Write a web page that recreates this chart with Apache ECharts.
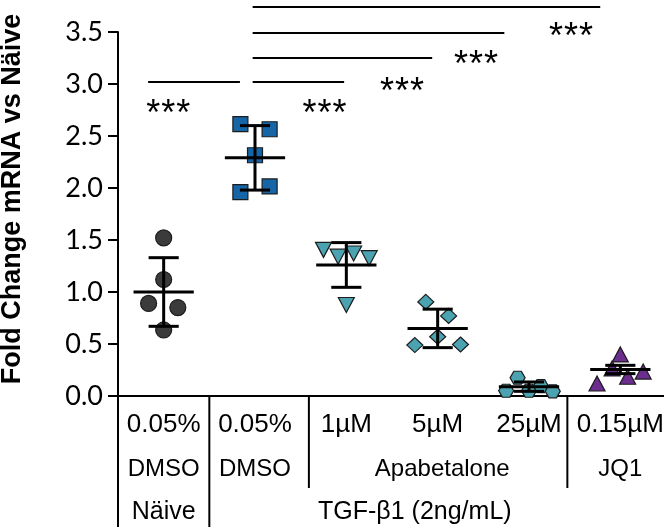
<!DOCTYPE html>
<html>
<head>
<meta charset="utf-8">
<script src="https://cdn.jsdelivr.net/npm/echarts@6/dist/echarts.min.js"></script>
<style>
  html, body { margin: 0; padding: 0; background: #fff; }
  #chart { width: 664px; height: 527px; }
</style>
</head>
<body>
<div id="chart"></div>
<script>
  // first label row, one per group
  const groupLabels = ['0.05%', '0.05%', '1µM', '5µM', '25µM', '0.15µM']
  // second and third rows: text and the group position it is centred on
  const rowTwoText = ['DMSO', 'DMSO', 'Apabetalone', 'JQ1']
  const rowTwoAt = [0, 1, 3.05, 5]
  const rowThreeText = ['Näive', 'TGF-β1 (2ng/mL)']
  const rowThreeAt = [0, 2.75]
  // dividers under the axis (position) and whether they run to the last row
  const dividerAt = [-0.5, 0.5, 1.59, 4.42]
  const dividerLong = [true, true, false, false]

  // single measurements per group and their horizontal spread
  const naiveVals = [1.52, 1.12, 0.89, 0.85, 0.635]
  const naiveJit = [0, 0, -0.165, 0.155, 0]
  const dmsoVals = [2.615, 2.565, 2.315, 1.96, 2.015]
  const dmsoJit = [-0.16, 0.16, 0, -0.16, 0.16]
  const apa1Vals = [1.405, 1.34, 1.37, 1.325, 0.875]
  const apa1Jit = [-0.25, -0.09, 0.08, 0.25, 0]
  const apa5Vals = [0.905, 0.77, 0.57, 0.49, 0.495]
  const apa5Jit = [-0.13, 0.12, 0, -0.25, 0.25]
  const apa25Vals = [0.175, 0.05, 0.05, 0.095, 0.045]
  const apa25Jit = [-0.125, -0.25, 0, 0.13, 0.26]
  const jq1Vals = [0.40, 0.265, 0.12, 0.185, 0.235]
  const jq1Jit = [0, -0.09, -0.255, 0.08, 0.25]

  // mean and SD per group
  const means = [1.00, 2.29, 1.26, 0.65, 0.09, 0.255]
  const sds = [0.33, 0.31, 0.215, 0.185, 0.045, 0.04]

  // significance bars [from, to, height] and stars [x, y]
  const sigFrom = [-0.17, 0.974, 0.974, 0.974, 0.974]
  const sigTo = [0.835, 1.976, 2.94, 3.73, 4.78]
  const sigY = [3.02, 3.02, 3.25, 3.49, 3.74]
  const starX = [0.05, 1.76, 2.61, 3.42, 4.46]
  const starY = [2.79, 2.79, 3.0, 3.26, 3.53]

  const labelFont = '"Liberation Sans", Arial, sans-serif'
  const teal = '#4ba2b1'
  const edge = '#1c1c1c'

  function points(vals, jit, gi){
    return vals.map((v, k) => [gi + jit[k], v])
  }

  function scatter(vals, jit, gi, symbol, size, color, rotate){
    return {
      type: 'scatter',
      xAxisIndex: 0,
      symbol: symbol,
      symbolSize: size,
      symbolRotate: rotate || 0,
      itemStyle: { color: color, borderColor: edge, borderWidth: 1.2, opacity: 1 },
      data: points(vals, jit, gi),
      z: 2
    }
  }

  const hexagon = 'path://M0,50 L25,0 L75,0 L100,50 L75,100 L25,100 Z'

  const chart = echarts.init(document.getElementById('chart'))
  const option = {
    animation: false,
    backgroundColor: '#fff',
    grid: { left: 118, right: -2, top: 32, bottom: 131, outerBoundsMode: 'none' },
    xAxis: [
      { type: 'value', min: -0.5, max: 5.5, show: false },
      {
        type: 'category',
        data: groupLabels,
        position: 'bottom',
        axisLine: { onZero: false, lineStyle: { color: '#000', width: 2 } },
        axisTick: { alignWithLabel: true, length: 10, lineStyle: { color: '#000', width: 2 } },
        axisLabel: { color: '#000', fontFamily: labelFont, fontSize: 26, margin: 16, interval: 0 }
      }
    ],
    yAxis: {
      type: 'value',
      min: 0,
      max: 3.5,
      interval: 0.5,
      splitLine: { show: false },
      axisLine: { show: true, onZero: false, lineStyle: { color: '#000', width: 2 } },
      axisTick: { show: true, length: 10, lineStyle: { color: '#000', width: 2 } },
      axisLabel: { color: '#000', fontFamily: 'Lato', fontSize: 27, margin: 15, formatter: v => v.toFixed(1) }
    },
    graphic: [{
      type: 'text',
      x: 13,
      y: 199,
      rotation: Math.PI / 2,
      style: {
        text: 'Fold Change mRNA vs Näive',
        font: 'bold 27px "Liberation Sans", Arial, sans-serif',
        fill: '#000',
        align: 'center',
        verticalAlign: 'middle'
      }
    }],
    series: [
      scatter(naiveVals, naiveJit, 0, 'circle', 16, '#3b3b3b'),
      scatter(dmsoVals, dmsoJit, 1, 'rect', 15, '#1565a7'),
      scatter(apa1Vals, apa1Jit, 2, 'triangle', [16, 15], teal, 180),
      scatter(apa5Vals, apa5Jit, 3, 'diamond', [16, 15], teal),
      scatter(apa25Vals, apa25Jit, 4, hexagon, [15, 13], teal),
      scatter(jq1Vals, jq1Jit, 5, 'triangle', [16, 15], '#6b2d8e'),
      {
        // mean line with SD whiskers
        type: 'custom',
        xAxisIndex: 0,
        z: 3,
        clip: false,
        silent: true,
        data: means.map((m, i) => [i, m, sds[i]]),
        renderItem(params, api){
          const x = api.value(0), m = api.value(1), s = api.value(2)
          const st = { stroke: '#000', lineWidth: 3 }
          const seg = (a, b) => {
            const p = api.coord(a), q = api.coord(b)
            return { type: 'line', shape: { x1: p[0], y1: p[1], x2: q[0], y2: q[1] }, style: st }
          }
          return {
            type: 'group',
            children: [
              seg([x - 0.33, m], [x + 0.33, m]),
              seg([x, m - s], [x, m + s]),
              seg([x - 0.165, m + s], [x + 0.165, m + s]),
              seg([x - 0.165, m - s], [x + 0.165, m - s])
            ]
          }
        }
      },
      {
        // significance bars
        type: 'custom',
        xAxisIndex: 0,
        clip: false,
        silent: true,
        data: sigY.map((y, i) => [sigFrom[i], sigTo[i], y]),
        renderItem(params, api){
          const p = api.coord([api.value(0), api.value(2)])
          const q = api.coord([api.value(1), api.value(2)])
          return { type: 'line', shape: { x1: p[0], y1: p[1], x2: q[0], y2: q[1] }, style: { stroke: '#000', lineWidth: 2 } }
        }
      },
      {
        type: 'custom',
        xAxisIndex: 0,
        clip: false,
        silent: true,
        data: starY.map((y, i) => [starX[i], y]),
        renderItem(params, api){
          const p = api.coord([api.value(0), api.value(1)])
          const kids = [-15, 0, 15].map(dx => ({
            type: 'text',
            x: p[0] + dx,
            y: p[1] + 9,
            style: { text: '*', font: '36px "Liberation Sans", Arial, sans-serif', fill: '#000', align: 'center', verticalAlign: 'middle' }
          }))
          return { type: 'group', children: kids }
        }
      },
      {
        // dividers below the axis
        type: 'custom',
        xAxisIndex: 0,
        clip: false,
        silent: true,
        data: dividerAt.map((x, i) => [x, dividerLong[i] ? 1 : 0]),
        renderItem(params, api){
          const p = api.coord([api.value(0), 0])
          const len = api.value(1) ? 131 : 92
          return { type: 'line', shape: { x1: p[0], y1: p[1], x2: p[0], y2: p[1] + len }, style: { stroke: '#000', lineWidth: 2 } }
        }
      },
      {
        // second label row
        type: 'custom',
        xAxisIndex: 0,
        clip: false,
        silent: true,
        data: rowTwoAt.map(x => [x, 0]),
        renderItem(params, api){
          const p = api.coord([api.value(0), 0])
          return { type: 'text', x: p[0], y: p[1] + 73, style: { text: rowTwoText[params.dataIndex], font: '24px ' + labelFont, fill: '#000', align: 'center', verticalAlign: 'middle' } }
        }
      },
      {
        // third label row
        type: 'custom',
        xAxisIndex: 0,
        clip: false,
        silent: true,
        data: rowThreeAt.map(x => [x, 0]),
        renderItem(params, api){
          const p = api.coord([api.value(0), 0])
          return { type: 'text', x: p[0], y: p[1] + 116, style: { text: rowThreeText[params.dataIndex], font: '25px ' + labelFont, fill: '#000', align: 'center', verticalAlign: 'middle' } }
        }
      }
    ]
  }
  chart.setOption(option)
</script>
</body>
</html>
